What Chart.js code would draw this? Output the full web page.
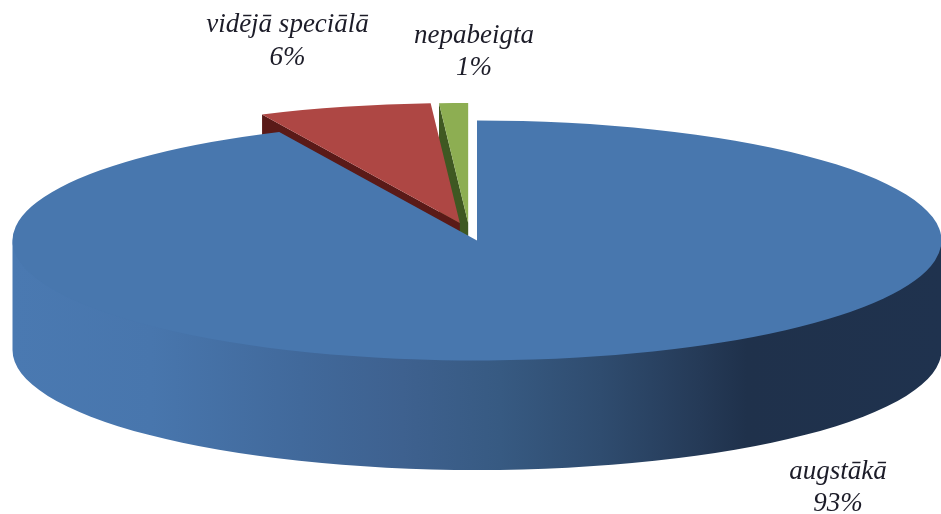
<!DOCTYPE html>
<html>
<head>
<meta charset="utf-8">
<style>
  html, body { margin: 0; padding: 0; background: #fff; }
  canvas { display: block; }
</style>
<script src="https://cdn.jsdelivr.net/npm/chart.js@4"></script>
</head>
<body>
<canvas id="chart" width="941" height="514"></canvas>
<script>
const categories = ['augstākā', 'vidējā speciālā', 'nepabeigta'];
const shares = [93, 6, 1];
const topColors = ['#4877ae', '#ae4744', '#8dae52'];
const cutColors = [null, '#5a1a18', '#3f5822'];

// flattened pie: where the ellipse sits on the page
const CX = 477, CY = 240.5, RX = 464.5, RY = 120, DEPTH = 109.5;

// pulled out slices, shift as fractions of the radius
const exploded = {
  1: { dx: -0.037, dy: -0.146 },
  2: { dx: -0.019, dy: -0.146 }
};

// label text anchors (centre x, baseline y of each of the two lines)
const labelPos = [
  { x: 838, y1: 479, y2: 511 },
  { x: 287.5, y1: 32, y2: 65 },
  { x: 474, y1: 43, y2: 75 }
];

const pie3d = {
  id: 'pie3d',
  afterDatasetsUpdate(chart) {
    const arcs = chart.getDatasetMeta(0).data;
    const R = arcs[0].outerRadius;
    chart.$base = { x: arcs[0].x, y: arcs[0].y, r: R };
    arcs.forEach((arc, i) => {
      const e = exploded[i];
      if (!e) return;
      arc.x += e.dx * R;
      arc.y += e.dy * R;
    });
  },
  beforeDatasetsDraw(chart) {
    const ctx = chart.ctx;
    const arcs = chart.getDatasetMeta(0).data;
    const base = chart.$base;
    const sx = RX / base.r, sy = RY / base.r;
    const page = (x, y) => [CX + (x - base.x) * sx, CY + (y - base.y) * sy];

    // front wall of the big slice
    const wall = ctx.createLinearGradient(CX - RX, 0, CX + RX, 0);
    wall.addColorStop(0, '#4a79b1');
    wall.addColorStop(0.15, '#4876ad');
    wall.addColorStop(0.31, '#41699b');
    wall.addColorStop(0.42, '#3e618f');
    wall.addColorStop(0.525, '#375a82');
    wall.addColorStop(0.633, '#2f4c6f');
    wall.addColorStop(0.74, '#253a57');
    wall.addColorStop(0.79, '#1f314b');
    wall.addColorStop(1, '#1f324e');
    ctx.fillStyle = wall;
    ctx.beginPath();
    // upper edge a little inside the top face so no seam shows
    ctx.ellipse(CX, CY - 3, RX, RY, 0, 0, Math.PI);
    ctx.ellipse(CX, CY + DEPTH, RX, RY, 0, Math.PI, 0, true);
    ctx.closePath();
    ctx.fill();

    // cut faces of the pulled out slices, the tops painted later hide the rest
    [2, 1].forEach(i => {
      const arc = arcs[i];
      const [tx, ty] = page(arc.x, arc.y);
      const a = arc.startAngle;
      const [lx, ly] = page(arc.x + Math.cos(a) * arc.outerRadius, arc.y + Math.sin(a) * arc.outerRadius);
      ctx.fillStyle = cutColors[i];
      ctx.beginPath();
      ctx.moveTo(lx, ly);
      ctx.lineTo(lx, ly + DEPTH);
      ctx.lineTo(tx, ty + DEPTH);
      ctx.lineTo(tx, ty);
      ctx.closePath();
      ctx.fill();
    });

    ctx.save();
    ctx.translate(CX, CY);
    ctx.scale(sx, sy);
    ctx.translate(-base.x, -base.y);
  },
  afterDatasetsDraw(chart) {
    const ctx = chart.ctx;
    ctx.restore();
    ctx.save();
    ctx.font = 'italic 27px "Liberation Serif"';
    ctx.fillStyle = '#1c1c28';
    ctx.textAlign = 'center';
    ctx.textBaseline = 'alphabetic';
    categories.forEach((name, i) => {
      ctx.fillText(name, labelPos[i].x, labelPos[i].y1);
      ctx.fillText(shares[i] + '%', labelPos[i].x, labelPos[i].y2);
    });
    ctx.restore();
  }
};

new Chart(document.getElementById('chart'), {
  type: 'pie',
  data: {
    labels: categories,
    datasets: [{
      data: shares,
      backgroundColor: topColors,
      borderWidth: 0,
      clip: false
    }]
  },
  options: {
    responsive: false,
    animation: false,
    layout: { padding: 0 },
    plugins: {
      legend: { display: false },
      tooltip: { enabled: false }
    }
  },
  plugins: [pie3d]
});
</script>
</body>
</html>
